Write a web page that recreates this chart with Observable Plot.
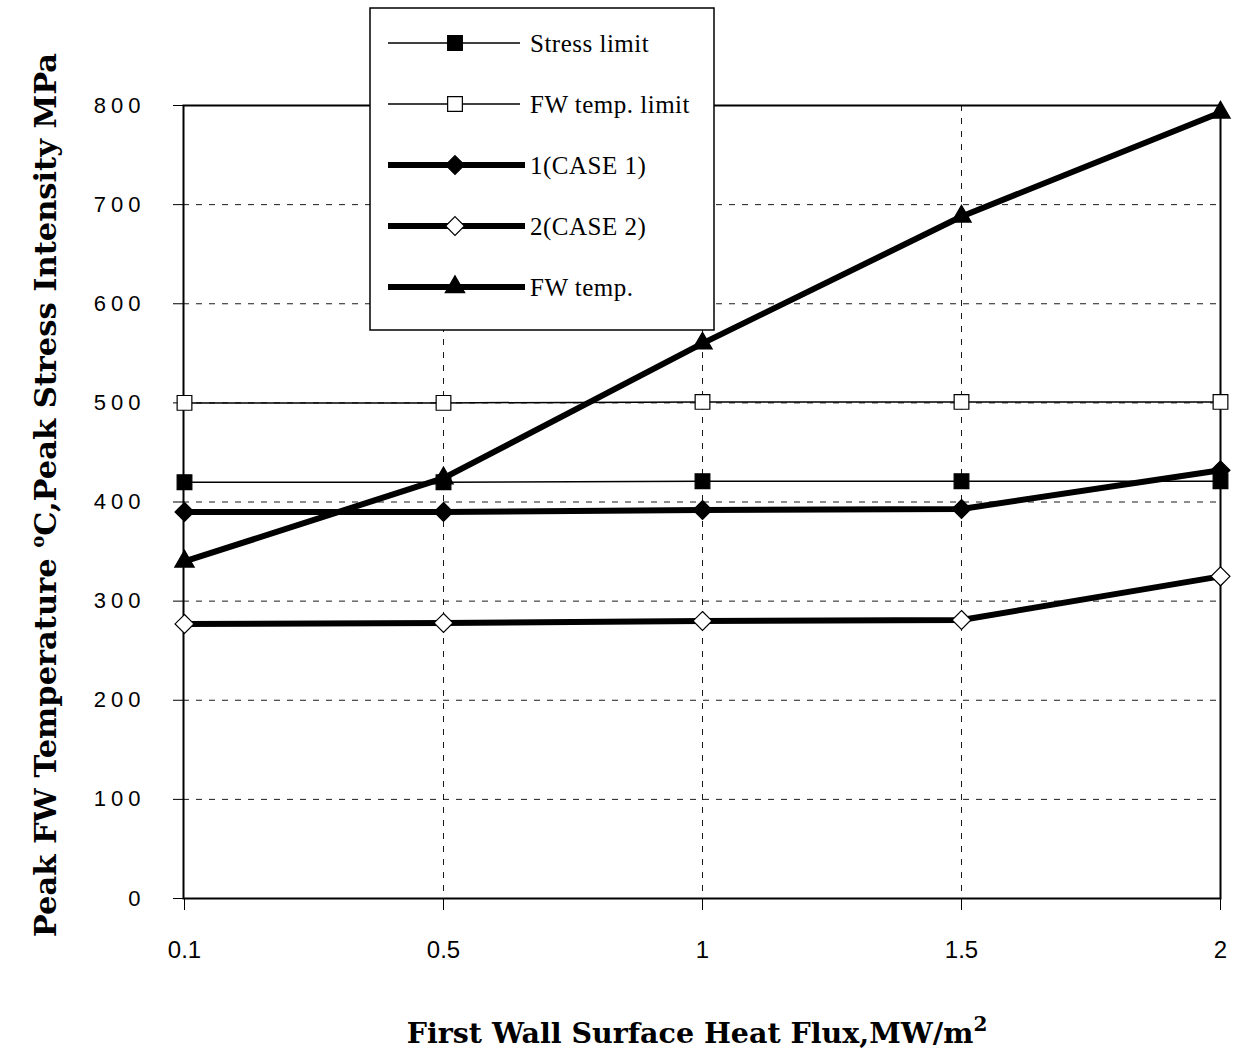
<!DOCTYPE html>
<html>
<head>
<meta charset="utf-8">
<script src="https://cdn.jsdelivr.net/npm/d3@7"></script>
<script src="https://cdn.jsdelivr.net/npm/@observablehq/plot@0.6"></script>
<style>
  html, body { margin: 0; padding: 0; background: #fff; }
  #chart { position: relative; width: 1240px; height: 1055px; }
</style>
</head>
<body>
<div id="chart"></div>
<script>
// ---- data ----
const flux = ["0.1", "0.5", "1", "1.5", "2"];
const stressLimit = [420, 420, 421, 421, 421];
const fwTempLimit = [500, 500, 501, 501, 501];
const case1 = [390, 390, 392, 393, 432];
const case2 = [277, 278, 280, 281, 325];
const fwTemp = [340, 424, 560, 688, 793];
const yTicks = [0, 100, 200, 300, 400, 500, 600, 700, 800];
const seriesNames = ["Stress limit", "FW temp. limit", "1(CASE 1)", "2(CASE 2)", "FW temp."];

const seriesStyle = [
  {values: stressLimit, symbol: "square", fill: "black", width: 1.5, r: 8.3},
  {values: fwTempLimit, symbol: "square", fill: "white", width: 1.5, r: 8.3},
  {values: case1, symbol: "diamond2", fill: "black", width: 6, r: 8.5},
  {values: case2, symbol: "diamond2", fill: "white", width: 6, r: 8.5},
  {values: fwTemp, symbol: "triangle", fill: "black", width: 6, r: 7.2}
];

const lineMarks = [];
const dotMarks = [];
seriesStyle.forEach((s, i) => {
  const data = flux.map((f, j) => ({x: f, y: s.values[j], name: seriesNames[i]}));
  lineMarks.push(Plot.line(data, {x: "x", y: "y", stroke: "black", strokeWidth: s.width}));
  dotMarks.push(Plot.dot(data, {x: "x", y: "y", symbol: () => s.symbol, r: s.r, fill: s.fill, stroke: "black", strokeWidth: 1.2}));
});

const plot = Plot.plot({
  width: 1240,
  height: 1055,
  marginLeft: 183,
  marginRight: 20,
  marginTop: 105,
  marginBottom: 157,
  style: {background: "white"},
  x: {type: "point", domain: flux, padding: 0},
  y: {domain: [0, 800]},
  symbol: {type: "identity"},
  marks: [
    Plot.gridY(yTicks.filter(d => d > 0 && d < 800), {stroke: "black", strokeOpacity: 0.9, strokeWidth: 1, strokeDasharray: "6,7"}),
    Plot.gridX(flux.slice(1, 4), {stroke: "black", strokeOpacity: 0.9, strokeWidth: 1, strokeDasharray: "6,7"}),
    Plot.frame({stroke: "black", strokeWidth: 2}),
    Plot.axisY(yTicks, {tickSize: 10, tickPadding: 28, tickFormat: d => String(d), label: null,
      fontSize: 22, fontFamily: "Liberation Sans, Arial, sans-serif", stroke: "black"}),
    Plot.axisX(flux, {tickSize: 12, tickPadding: 30, label: null,
      fontSize: 24, fontFamily: "Liberation Sans Narrow, Liberation Sans, sans-serif", stroke: "black"}),
    ...lineMarks,
    ...dotMarks
  ]
});

document.getElementById("chart").appendChild(plot);
const svg = d3.select(plot);

// letter spacing on y tick labels
svg.selectAll("[aria-label='y-axis tick label'] text").style("letter-spacing", "5px");

// Axis titles
svg.append("text")
  .attr("transform", "translate(56,495) rotate(-90)")
  .attr("text-anchor", "middle")
  .attr("font-family", "DejaVu Serif, serif")
  .attr("font-weight", "bold")
  .attr("font-size", 30.5)
  .attr("fill", "black")
  .call(t => {
    t.append("tspan").text("Peak FW Temperature ");
    t.append("tspan").attr("font-size", 18).attr("dy", -12).text("o");
    t.append("tspan").attr("dy", 12).text("C,Peak Stress Intensity MPa");
  });

svg.append("text")
  .attr("x", 697)
  .attr("y", 1043)
  .attr("text-anchor", "middle")
  .attr("font-family", "DejaVu Serif, serif")
  .attr("font-weight", "bold")
  .attr("font-size", 28.5)
  .attr("fill", "black")
  .call(t => {
    t.append("tspan").text("First Wall Surface Heat Flux,MW/m");
    t.append("tspan").attr("font-size", 20).attr("dy", -12).text("2");
  });

// Legend
const lg = svg.append("g");
lg.append("rect").attr("x", 370).attr("y", 8).attr("width", 344).attr("height", 322)
  .attr("fill", "white").attr("stroke", "black").attr("stroke-width", 1.5);
const symMap = {square: d3.symbolSquare, diamond2: d3.symbolDiamond2, triangle: d3.symbolTriangle};
seriesStyle.forEach((s, i) => {
  const y = 43 + i * 61;
  lg.append("line").attr("x1", 388).attr("x2", s.width > 3 ? 525 : 520)
    .attr("y1", y).attr("y2", y).attr("stroke", "black").attr("stroke-width", s.width);
  lg.append("path").attr("transform", `translate(455,${y})`)
    .attr("d", d3.symbol(symMap[s.symbol], Math.PI * s.r * s.r)())
    .attr("fill", s.fill).attr("stroke", "black").attr("stroke-width", 1.2);
  lg.append("text").attr("x", 530).attr("y", y).attr("dy", "0.35em")
    .attr("text-anchor", "start")
    .attr("font-family", "Liberation Serif, serif").attr("font-size", 25)
    .style("letter-spacing", "0.5px")
    .attr("fill", "black").text(seriesNames[i]);
});
</script>
</body>
</html>
